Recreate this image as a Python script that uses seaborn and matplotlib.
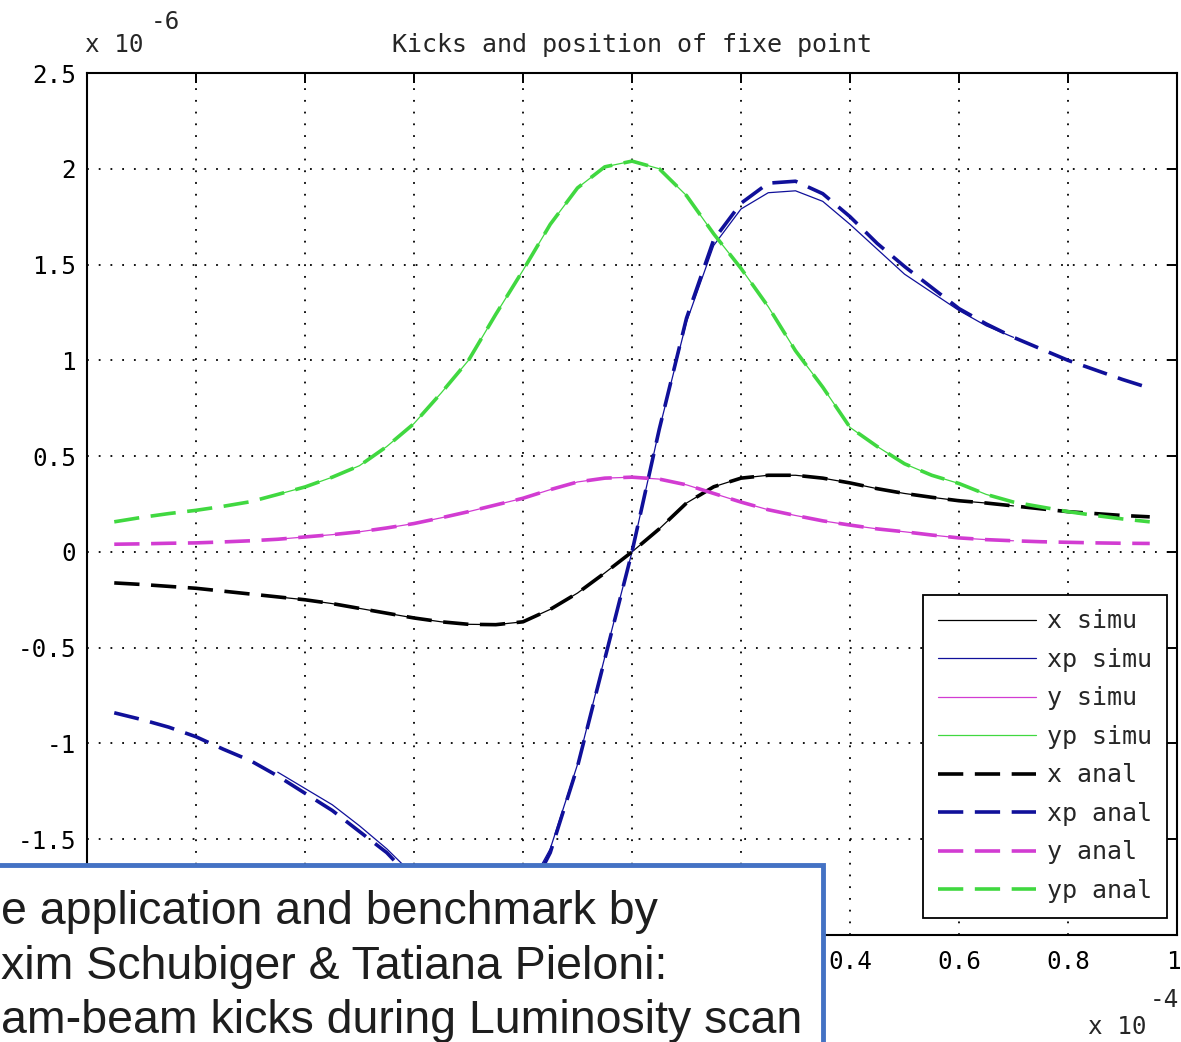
import matplotlib
matplotlib.use("Agg")
import matplotlib.pyplot as plt
import matplotlib.transforms as mtransforms
import seaborn as sns
from matplotlib.patches import Rectangle

# ---------------- data (x in units of 1e-4, kicks in units of 1e-6) ----------------
x_anal = [-0.95, -0.90, -0.85, -0.80, -0.75, -0.70, -0.65, -0.60, -0.55, -0.50,
          -0.45, -0.40, -0.35, -0.30, -0.25, -0.20, -0.15, -0.10, -0.05, 0.00,
          0.05, 0.10, 0.15, 0.20, 0.25, 0.30, 0.35, 0.40, 0.45, 0.50,
          0.55, 0.60, 0.65, 0.70, 0.75, 0.80, 0.85, 0.90, 0.95]

x_kick_anal = [-0.162, -0.170, -0.180, -0.190, -0.205, -0.220, -0.235, -0.250, -0.270, -0.295,
               -0.320, -0.345, -0.365, -0.378, -0.380, -0.365, -0.300, -0.215, -0.110, 0.000,
               0.120, 0.255, 0.340, 0.385, 0.400, 0.400, 0.385, 0.360, 0.330, 0.305,
               0.285, 0.267, 0.255, 0.240, 0.225, 0.210, 0.200, 0.190, 0.183]

xp_kick_anal = [-0.840, -0.875, -0.915, -0.965, -1.030, -1.090, -1.170, -1.260, -1.350, -1.460,
                -1.570, -1.720, -1.840, -1.910, -1.930, -1.850, -1.570, -1.120, -0.560, 0.000,
                0.640, 1.220, 1.630, 1.820, 1.925, 1.935, 1.870, 1.750, 1.610, 1.490,
                1.380, 1.270, 1.190, 1.120, 1.060, 1.000, 0.950, 0.900, 0.855]

y_kick_anal = [0.040, 0.042, 0.045, 0.047, 0.052, 0.058, 0.066, 0.078, 0.090, 0.105,
               0.125, 0.148, 0.178, 0.210, 0.245, 0.280, 0.325, 0.365, 0.385, 0.390,
               0.380, 0.350, 0.305, 0.260, 0.220, 0.190, 0.162, 0.140, 0.120, 0.105,
               0.088, 0.073, 0.064, 0.058, 0.053, 0.050, 0.047, 0.045, 0.044]

yp_kick_anal = [0.157, 0.180, 0.200, 0.217, 0.238, 0.262, 0.300, 0.339, 0.390, 0.450,
                0.550, 0.670, 0.830, 1.000, 1.240, 1.470, 1.710, 1.900, 2.010, 2.040,
                2.000, 1.860, 1.660, 1.480, 1.280, 1.050, 0.860, 0.650, 0.550, 0.460,
                0.400, 0.357, 0.300, 0.260, 0.235, 0.210, 0.190, 0.172, 0.157]

# simulation covers a narrower scan range (-0.65 .. 0.70)
x_simu = x_anal[6:34]
x_kick_simu = x_kick_anal[6:34]
y_kick_simu = y_kick_anal[6:34]
yp_kick_simu = yp_kick_anal[6:34]
xp_kick_simu = [-1.150, -1.235, -1.320, -1.430, -1.550, -1.690, -1.800, -1.870, -1.885, -1.810,
                -1.550, -1.110, -0.550, 0.000, 0.640, 1.200, 1.600, 1.790, 1.875, 1.885,
                1.830, 1.710, 1.580, 1.450, 1.355, 1.260, 1.180, 1.120]

labels = ["x simu", "xp simu", "y simu", "yp simu", "x anal", "xp anal", "y anal", "yp anal"]
x_ticks = [-1, -0.8, -0.6, -0.4, -0.2, 0, 0.2, 0.4, 0.6, 0.8, 1]
# labels left of 0.4 lie under the overlaid note box in the picture
x_tick_labels = ["", "", "", "", "", "", "", "0.4", "0.6", "0.8", "1"]
y_ticks = [-2, -1.5, -1, -0.5, 0, 0.5, 1, 1.5, 2, 2.5]
y_tick_labels = ["", "-1.5", "-1", "-0.5", "0", "0.5", "1", "1.5", "2", "2.5"]

# ---------------- style ----------------
sns.set_style("white")
plt.rcParams["font.family"] = ["DejaVu Sans Mono", "DejaVu Sans"]
plt.rcParams["axes.unicode_minus"] = False

W, H = 1181, 1042
fig = plt.figure(figsize=(W / 100, H / 100), dpi=100)
fig.patch.set_facecolor("white")
ax = fig.add_axes([87 / W, 1 - 935 / H, 1090 / W, 862 / H])

c_x = "#000000"
c_xp = "#10109a"
c_y = "#d23cd2"
c_yp = "#40d840"
thin = 0.9
thick = 2.6
dash = (0, (7, 3.2))

series = [
    (x_simu, x_kick_simu, c_x, labels[0], thin, "-"),
    (x_simu, xp_kick_simu, c_xp, labels[1], thin, "-"),
    (x_simu, y_kick_simu, c_y, labels[2], thin, "-"),
    (x_simu, yp_kick_simu, c_yp, labels[3], thin, "-"),
    (x_anal, x_kick_anal, c_x, labels[4], thick, dash),
    (x_anal, xp_kick_anal, c_xp, labels[5], thick, dash),
    (x_anal, y_kick_anal, c_y, labels[6], thick, dash),
    (x_anal, yp_kick_anal, c_yp, labels[7], thick, dash),
]
for xs, ys, col, lab, lw, ls in series:
    sns.lineplot(x=xs, y=ys, ax=ax, color=col, linewidth=lw, linestyle=ls,
                 label=lab, estimator=None, sort=False)

ax.set_xlim(-1, 1)
ax.set_ylim(-2, 2.5)
ax.set_xticks(x_ticks)
ax.set_xticklabels(x_tick_labels)
ax.set_yticks(y_ticks)
ax.set_yticklabels(y_tick_labels)
ax.set_xlabel("")
ax.set_ylabel("")
ax.tick_params(direction="in", length=7, width=1.4, top=True, right=True,
               labelsize=17.5, colors="black")
ax.tick_params(axis="x", pad=11)
ax.tick_params(axis="y", pad=8)
# nudge the last x label so it stays inside the picture, as in the cropped reference
last = ax.get_xticklabels()[-1]
last.set_transform(last.get_transform() +
                   mtransforms.ScaledTranslation(-4 / 100, 0, fig.dpi_scale_trans))
for s in ax.spines.values():
    s.set_visible(True)
    s.set_linewidth(1.5)
    s.set_color("black")
ax.grid(True, color="black", linestyle=(0, (1, 5.5)), linewidth=1.3)
ax.set_axisbelow(True)

ax.set_title("Kicks and position of fixe point", fontsize=18, pad=15)

leg = ax.legend(loc="lower right", bbox_to_anchor=((1167 - 87) / 1090, (935 - 918) / 862),
                borderaxespad=0, fontsize=18, handlelength=3.9, handletextpad=0.45,
                labelspacing=0.58, borderpad=0.6, fancybox=False, framealpha=1,
                edgecolor="black")
leg.get_frame().set_linewidth(1.3)

# MATLAB style exponent labels
fig.text(85 / W, 1 - 45 / H, "x 10", fontsize=17.5, ha="left", va="center")
fig.text(151 / W, 1 - 22 / H, "-6", fontsize=17.5, ha="left", va="center")
fig.text(1088 / W, 1 - 1027 / H, "x 10", fontsize=17.5, ha="left", va="center")
fig.text(1150 / W, 1 - 1000 / H, "-4", fontsize=17.5, ha="left", va="center")

# overlaid annotation box (cropped at the left and bottom of the picture)
box = Rectangle((-10 / W, -10 / H), (823 + 10) / W, (H - 865 + 10) / H,
                transform=fig.transFigure, facecolor="white", edgecolor="#4472c4",
                linewidth=3.5, zorder=10)
fig.add_artist(box)
note_lines = ["e application and benchmark by",
              "xim Schubiger & Tatiana Pieloni:",
              "am-beam kicks during Luminosity scan"]
note_base = [924, 979, 1033]
for t, yy in zip(note_lines, note_base):
    fig.text(1 / W, 1 - yy / H, t, fontsize=33.5, family=["Liberation Sans", "DejaVu Sans"],
             ha="left", va="baseline", color="#1e1e1e", zorder=11)

fig.savefig("out.png", dpi=100)
